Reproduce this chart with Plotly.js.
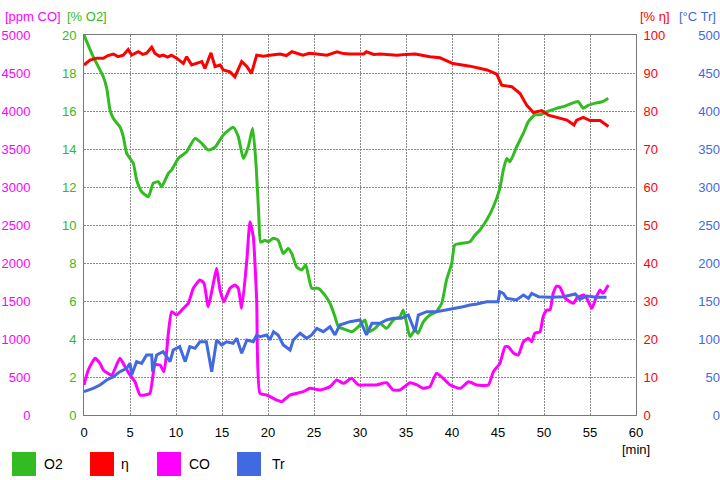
<!DOCTYPE html>
<html>
<head>
<meta charset="utf-8">
<script src="https://cdn.plot.ly/plotly-3.0.1.min.js"></script>
<style>html,body{margin:0;padding:0;background:#fff;}#chart{width:720px;height:480px;}</style>
</head>
<body>
<div id="chart"></div>
<script>
// ---- Data ----
const o2Time = [0,1.0,2.1,2.47,2.83,3.19,3.9,4.27,4.64,5.36,5.72,6.27,7.0,7.53,8.08,8.44,9.17,9.53,10.25,11.16,12.07,12.79,13.5,14.24,15.14,16.23,16.77,17.32,17.86,18.33,18.7,19.0,19.2,19.67,20.03,20.58,21.1,21.66,22.2,22.58,23.1,23.66,24.1,24.75,25.47,26.2,26.74,27.28,27.65,28.55,29.1,29.82,30.54,30.9,31.63,32.17,32.9,33.62,34.35,34.7,35.07,35.43,35.98,36.3,36.88,37.6,38.3,38.88,39.4,39.97,40.3,41.05,41.96,42.5,43.04,43.77,44.5,45.2,45.58,45.95,46.3,47.03,47.76,48.3,49.0,49.57,50.3,51.38,52.1,53.0,53.7,54.27,54.8,55.5,56.4,56.98];
const o2Vals = [20,18.86,17.8,17.2,16.05,15.6,15.17,14.65,13.77,13.25,12.37,11.75,11.49,12.2,12.28,12.02,12.72,12.9,13.5,13.86,14.56,14.3,13.95,14.09,14.74,15.14,14.65,13.5,14.12,15.09,13.2,10.5,9.1,9.2,9.12,9.3,9.2,8.5,8.77,8.5,7.8,7.63,7.9,6.67,6.67,6.3,5.88,5.17,4.65,4.47,4.38,4.65,5.0,4.38,4.56,4.82,4.56,5.0,5.17,5.53,4.82,4.12,4.47,4.3,4.9,5.26,5.44,5.88,7.1,7.98,8.95,9.04,9.12,9.47,9.74,10.26,10.96,11.93,12.9,13.5,13.33,14.12,14.83,15.44,15.8,15.8,15.96,16.14,16.23,16.4,16.5,16.14,16.3,16.4,16.5,16.67];

const etaTime = [0,0.65,1.38,2.1,2.6,3.19,3.7,4.27,4.8,5.18,5.9,6.4,6.8,7.36,7.7,8.2,8.6,9.1,9.5,10.07,10.8,11.16,11.7,12.25,12.8,13.15,13.8,14.24,14.8,15.14,15.87,16.4,17.14,17.7,18.2,18.77,19.5,20.2,21.3,22.0,22.6,23.8,24.5,25.3,26.4,27.5,28.2,28.9,30.4,30.7,31.5,32.2,33.1,34.0,35.0,36.0,37.6,38.7,40.1,41.0,41.96,43.8,44.86,45.4,46.5,47.4,48.1,48.84,49.75,50.47,51.74,52.5,53.26,53.55,54.27,55.0,56.1,57.0];
const etaVals = [92.1,93.4,93.9,93.9,94.6,95.0,94.3,94.7,96.2,94.7,95.6,94.9,95.2,96.8,95.2,94.4,94.7,94.2,94.7,93.9,92.5,94.3,92.1,92.5,93.0,91.2,95.3,91.7,92.1,90.8,90.3,89.0,93.0,91.7,89.9,94.7,94.4,94.7,95.0,94.6,95.6,94.7,95.2,95.0,94.7,95.6,95.1,95.0,95.0,95.6,94.9,95.0,94.8,94.7,94.9,95.0,94.3,94.0,92.5,92.2,91.8,90.8,89.7,86.8,86.4,84.6,81.6,79.6,80.1,78.9,78.1,77.6,76.3,77.6,78.3,77.5,77.5,75.9];

const coTime = [0,0.47,1.2,1.74,2.1,3.0,3.9,4.46,5.0,5.54,6.09,6.63,7.17,7.72,8.26,8.7,9.17,9.53,10.07,10.8,11.34,11.88,12.6,13.04,13.5,14.06,14.42,14.78,15.2,15.87,16.4,16.77,17.14,17.7,18.04,18.4,18.77,19.13,19.86,20.95,21.5,22.4,23.84,24.57,25.65,26.74,27.47,28.2,29.1,29.82,30.7,31.8,32.9,33.6,34.35,35.43,36.2,36.88,37.6,38.3,39.05,39.8,40.9,41.8,42.7,43.95,44.5,45.2,45.76,46.1,46.7,47.2,47.76,48.3,48.66,49.0,49.57,49.9,50.3,50.65,51.0,51.38,51.74,52.3,53.2,53.55,54.27,54.65,55.2,55.7,56.1,56.4,57.0];
const coVals = [395,592,746,680,592,526,746,636,526,438,263,263,285,658,658,570,1075,1359,1316,1404,1470,1667,1776,1733,1425,1733,1930,1645,1491,1667,1711,1667,1404,2039,2544,2346,1513,285,263,197,175,263,307,351,329,373,461,417,482,395,395,395,425,329,329,425,395,351,373,548,482,395,351,438,395,395,570,680,899,899,812,789,964,1009,964,1075,1096,1294,1382,1382,1601,1697,1680,1535,1470,1535,1579,1535,1404,1557,1645,1601,1711];

const trTime = [0,1.0,1.74,2.47,3.19,3.9,4.64,5.0,5.18,5.72,6.27,6.8,7.36,7.46,7.9,8.6,9.35,9.7,10.4,11.0,11.5,12.07,12.6,13.3,13.88,14.42,14.97,15.5,16.2,16.6,17.14,17.7,18.4,18.77,19.13,19.86,20.2,20.6,21.1,21.66,22.4,22.75,23.48,24.2,24.75,25.3,26.0,26.74,27.28,27.8,28.9,30.0,30.7,31.3,32.17,32.9,33.6,34.5,35.25,35.98,36.34,37.25,38.3,39.4,40.5,41.2,41.96,42.7,43.77,45.0,45.2,45.58,45.95,47.0,47.76,48.3,48.66,49.4,50.65,52.1,53.4,53.9,54.65,55.7,56.8];
const trVals = [30.7,35.1,39.5,46.1,50.4,57,61.4,68,52.6,70.2,68,79,79,57,79,83.3,70.2,85.5,89.9,70.2,89.9,87.7,96.4,96.4,57,98.7,92.1,96.4,94.3,100.9,81.2,98.7,96.4,105.3,103,105.3,98.7,109.6,105.3,92.1,85.5,98.7,107.5,100.9,105.3,114,109.6,116.2,105.3,118.4,122.8,125,105.3,120.6,120.6,125,127.2,127.2,131.6,109.6,131.6,135.9,135.9,138.2,140.4,142.5,144.7,146,149,149,162.2,160,153.5,151.3,157.9,153.5,160,155.7,154.9,155.7,159.2,152.2,156.6,154.9,154.9];

const xTicks = [0,5,10,15,20,25,30,35,40,45,50,55,60];
const legendNames = ['O2','η','CO','Tr'];

// ---- Styles ----
const GREEN = '#33BB22', RED = '#FF0000', MAGENTA = '#FF00FF', BLUE = '#4169E1';
const FONT = 'Arial, "Liberation Sans", sans-serif';
const W = 720, H = 480;
const px = v => v / W, py = v => 1 - v / H;

const traces = [
  {x: trTime, y: trVals, yaxis: 'y4', name: 'Tr', mode: 'lines', line: {color: BLUE, width: 3}},
  {x: coTime, y: coVals, yaxis: 'y2', name: 'CO', mode: 'lines', line: {color: MAGENTA, width: 3, shape: 'spline', smoothing: 0.5}},
  {x: o2Time, y: o2Vals, yaxis: 'y', name: 'O2', mode: 'lines', line: {color: GREEN, width: 3, shape: 'spline', smoothing: 0.5}},
  {x: etaTime, y: etaVals, yaxis: 'y3', name: 'η', mode: 'lines', line: {color: RED, width: 3}}
];

const gridDash = '2px,1px';
const layout = {
  width: W, height: H,
  margin: {l: 0, r: 0, t: 0, b: 0},
  paper_bgcolor: '#fff', plot_bgcolor: '#fff',
  showlegend: false,
  font: {family: FONT, size: 13, color: '#000'},
  xaxis: {
    domain: [px(84), px(636)], range: [0, 60], tickvals: xTicks, ticktext: xTicks.map(String),
    showgrid: true, gridcolor: '#8a8a8a', griddash: gridDash, gridwidth: 1,
    showline: true, linecolor: '#777', linewidth: 1, mirror: true,
    ticks: 'outside', ticklen: 5, tickcolor: 'rgba(0,0,0,0)', zeroline: false,
    tickfont: {size: 13, color: '#000'}, fixedrange: true
  },
  yaxis: {
    domain: [py(415), py(35)], range: [0, 20], dtick: 2, tick0: 0,
    showgrid: true, gridcolor: '#8a8a8a', griddash: gridDash, gridwidth: 1,
    showline: true, linecolor: '#777', linewidth: 1, mirror: true,
    ticks: 'outside', ticklen: 4, tickcolor: 'rgba(0,0,0,0)', zeroline: false,
    tickfont: {size: 13, color: GREEN}
  },
  yaxis2: {
    overlaying: 'y', anchor: 'free', position: 0.0514, side: 'left',
    range: [0, 5000], dtick: 500, tick0: 0, showgrid: false, zeroline: false, showline: false,
    ticks: 'outside', ticklen: 4, tickcolor: 'rgba(0,0,0,0)', tickfont: {size: 13, color: MAGENTA}
  },
  yaxis3: {
    overlaying: 'y', anchor: 'x', side: 'right',
    range: [0, 100], dtick: 10, tick0: 0, showgrid: false, zeroline: false, showline: false,
    ticks: 'outside', ticklen: 4, tickcolor: 'rgba(0,0,0,0)', tickfont: {size: 13, color: RED}
  },
  yaxis4: {
    overlaying: 'y', anchor: 'free', position: 1.0, side: 'left',
    range: [0, 500], dtick: 50, tick0: 0, showgrid: false, zeroline: false, showline: false,
    ticks: '', tickfont: {size: 13, color: BLUE}
  },
  annotations: [
    {text: '[ppm CO]', x: px(3), y: py(17), xref: 'paper', yref: 'paper', xanchor: 'left', yanchor: 'middle', showarrow: false, font: {size: 13, color: MAGENTA}},
    {text: '[% O2]', x: px(65), y: py(17), xref: 'paper', yref: 'paper', xanchor: 'left', yanchor: 'middle', showarrow: false, font: {size: 13, color: GREEN}},
    {text: '[% η]', x: px(638), y: py(17), xref: 'paper', yref: 'paper', xanchor: 'left', yanchor: 'middle', showarrow: false, font: {size: 13, color: RED}},
    {text: '[°C Tr]', x: px(718), y: py(17), xref: 'paper', yref: 'paper', xanchor: 'right', yanchor: 'middle', showarrow: false, font: {size: 13, color: BLUE}},
    {text: '[min]', x: px(636), y: py(449), xref: 'paper', yref: 'paper', xanchor: 'center', yanchor: 'middle', showarrow: false, font: {size: 13, color: '#000'}}
  ],
  shapes: []
};

// Legend: coloured squares + labels
const legendColors = [GREEN, RED, MAGENTA, BLUE];
const legendX = [12, 90, 157, 237];
const legendTextX = [42, 119, 187, 270];
legendNames.forEach((n, i) => {
  layout.shapes.push({type: 'rect', xref: 'paper', yref: 'paper',
    x0: px(legendX[i]), x1: px(legendX[i] + 24), y0: py(476), y1: py(452),
    fillcolor: legendColors[i], line: {width: 0}});
  layout.annotations.push({text: n, x: px(legendTextX[i]), y: py(464), xref: 'paper', yref: 'paper',
    xanchor: 'left', yanchor: 'middle', showarrow: false, font: {size: 14, color: '#000'}});
});

Plotly.newPlot('chart', traces, layout, {staticPlot: true, displayModeBar: false});
</script>
</body>
</html>
